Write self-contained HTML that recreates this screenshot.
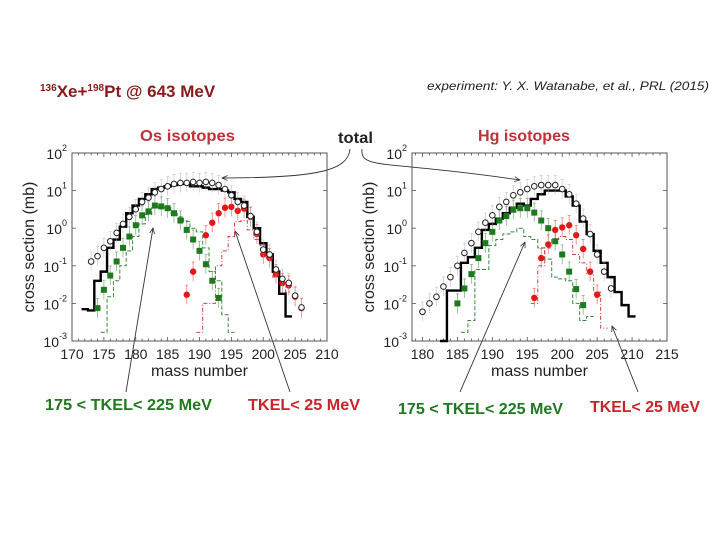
<!DOCTYPE html>
<html><head><meta charset="utf-8"><style>
html,body{margin:0;padding:0;background:#fff;}
svg{display:block;font-family:"Liberation Sans",sans-serif;}
</style></head><body>
<svg id="chart" width="720" height="540" viewBox="0 0 720 540">
<defs>
<marker id="ah" viewBox="0 0 10 10" refX="9" refY="5" markerWidth="7" markerHeight="7" orient="auto-start-reverse"><path d="M0,1 L9,5 L0,9" fill="none" stroke="#333" stroke-width="1.3"/></marker>
</defs>
<text x="40" y="97" font-size="17" font-weight="bold" fill="#8b1a1a"><tspan font-size="10" dy="-6">136</tspan><tspan dy="6">Xe+</tspan><tspan font-size="10" dy="-6">198</tspan><tspan dy="6">Pt @ 643 MeV</tspan></text>
<text x="427" y="90" font-size="12" font-style="italic" fill="#222" textLength="282" lengthAdjust="spacingAndGlyphs">experiment: Y. X. Watanabe, et al., PRL (2015)</text>
<text x="140" y="141" font-size="16" font-weight="bold" fill="#c0313a" textLength="95" lengthAdjust="spacingAndGlyphs">Os isotopes</text>
<text x="478" y="141" font-size="16" font-weight="bold" fill="#c0313a" textLength="92" lengthAdjust="spacingAndGlyphs">Hg isotopes</text>
<text x="338" y="143" font-size="16" font-weight="bold" fill="#222" textLength="35" lengthAdjust="spacingAndGlyphs">total</text>
<text x="45" y="410" font-size="16" font-weight="bold" fill="#1e7a1e" textLength="167" lengthAdjust="spacingAndGlyphs">175 &lt; TKEL&lt; 225 MeV</text>
<text x="248" y="410" font-size="16" font-weight="bold" fill="#c8242c" textLength="112" lengthAdjust="spacingAndGlyphs">TKEL&lt; 25 MeV</text>
<text x="398" y="414" font-size="16" font-weight="bold" fill="#1e7a1e" textLength="165" lengthAdjust="spacingAndGlyphs">175 &lt; TKEL&lt; 225 MeV</text>
<text x="590" y="412" font-size="16" font-weight="bold" fill="#c8242c" textLength="110" lengthAdjust="spacingAndGlyphs">TKEL&lt; 25 MeV</text>
<path d="M350,149 C348,170 320,178 222,178" fill="none" stroke="#333" stroke-width="0.9" marker-end="url(#ah)"/>
<path d="M362,149 C360,170 385,160 520,180" fill="none" stroke="#333" stroke-width="0.9" marker-end="url(#ah)"/>
<line x1="126" y1="392" x2="153" y2="228" stroke="#333" stroke-width="0.9" marker-end="url(#ah)"/>
<line x1="290" y1="392" x2="235" y2="231" stroke="#333" stroke-width="0.9" marker-end="url(#ah)"/>
<line x1="460" y1="392" x2="525" y2="242" stroke="#333" stroke-width="0.9" marker-end="url(#ah)"/>
<line x1="638" y1="392" x2="612" y2="326" stroke="#333" stroke-width="0.9" marker-end="url(#ah)"/>
</svg>
<script>
// Os panel data
const osTotExpMass=[173,174,175,176,177,178,179,180,181,182,183,184,185,186,187,188,189,190,191,192,193,194,195,196,197,198,199,200,201,202,203,204,205,206];
const osTotExpVal=[0.13,0.18,0.3,0.45,0.75,1.3,2,3.2,5,6.5,9,11,13,15,16,16,17,16,17,16,14,11,7.5,5,4,2.1,0.8,0.27,0.2,0.08,0.045,0.035,0.016,0.0078];
const osTotCalcMass=[172,173,174,175,176,177,178,179,180,181,182,183,184,185,186,187,188,189,190,191,192,193,194,195,196,197,198,199,200,201,202,203,204];
const osTotCalcVal=[0.007,0.0065,0.04,0.07,0.3,0.5,1.1,2.5,4,6,8,11,12,13,14,15,15,13,13,12,11,11,10,9,6,5,2,1,0.4,0.2,0.07,0.018,0.0045];
const osMidExpMass=[174,175,176,177,178,179,180,181,182,183,184,185,186,187,188,189,190,191,192,193];
const osMidExpVal=[0.0075,0.023,0.055,0.13,0.3,0.6,1.2,2.2,2.8,4,3.8,3.4,2.5,1.6,0.9,0.5,0.25,0.11,0.04,0.014];
const osMidCalcMass=[175,176,177,178,179,180,181,182,183,184,185,186,187,188,189,190,191,192,193,194,195];
const osMidCalcVal=[0.0017,0.015,0.04,0.1,0.25,0.6,1.3,2.3,3.5,4,3.5,2.5,2,1.5,1,0.8,0.3,0.07,0.04,0.005,0.0017];
const osLowExpMass=[188,189,191,192,193,194,195,196,197,198,199,200,201,202,203,204,205,206];
const osLowExpVal=[0.017,0.07,0.65,1.4,2.5,3.5,3.7,2.9,3.3,2.0,0.7,0.2,0.16,0.06,0.035,0.03,0.015,0.0075];
const osLowCalcMass=[190,191,192,193,194,195,196,197,198,199,200,201,202,203,204];
const osLowCalcVal=[0.0017,0.01,0.01,0.1,0.25,0.6,1.5,1.6,0.9,0.5,0.35,0.15,0.05,0.03,0.02];
// Hg panel data
const hgTotExpMass=[180,181,182,183,184,185,186,187,188,189,190,191,192,193,194,195,196,197,198,199,200,201,202,203,204,205,206,207];
const hgTotExpVal=[0.006,0.01,0.015,0.028,0.05,0.1,0.22,0.4,0.8,1.4,2.2,3.7,5,7.5,9,11,13,14,14,14,11,8,4.5,1.8,0.7,0.2,0.07,0.025];
const hgTotCalcMass=[183,184,185,186,187,188,189,190,191,192,193,194,195,196,197,198,199,200,201,202,203,204,205,206,207,208,209,210];
const hgTotCalcVal=[0.0009,0.022,0.022,0.12,0.17,0.3,0.9,1.3,1.8,2.5,3.5,4.5,4,6,8,10,10,10,7,4,1.5,0.7,0.25,0.12,0.05,0.02,0.009,0.0045];
const hgMidExpMass=[185,186,187,188,189,190,191,192,193,194,195,196,197,198,199,200,201,202,203];
const hgMidExpVal=[0.01,0.025,0.06,0.16,0.4,0.8,1.6,2.1,3.1,3.4,3.4,2.6,1.6,1.0,0.45,0.2,0.07,0.024,0.009];
const hgMidCalcMass=[186,187,188,189,190,191,192,193,194,195,196,197,198,199,200,201,202,203,204];
const hgMidCalcVal=[0.0017,0.0035,0.08,0.08,0.35,0.5,0.7,0.8,1.0,0.6,0.5,0.3,0.15,0.05,0.045,0.04,0.01,0.0035,0.0045];
const hgLowExpMass=[196,197,198,199,200,201,202,203,204,205];
const hgLowExpVal=[0.014,0.16,0.37,0.9,1.05,1.2,0.65,0.28,0.07,0.017];
const hgLowCalcMass=[196,197,198,199,200,201,202,203,204,205,206];
const hgLowCalcVal=[0.01,0.1,0.3,0.5,0.6,0.5,0.2,0.12,0.06,0.02,0.0022];
const osXTicks=[170,175,180,185,190,195,200,205,210];
const hgXTicks=[180,185,190,195,200,205,210,215];
const yTickExps=[2,1,0,-1,-2,-3];

const NS='http://www.w3.org/2000/svg';
const svg=document.getElementById('chart');
function mk(tag,attrs,parent){const e=document.createElementNS(NS,tag);for(const k in attrs)e.setAttribute(k,attrs[k]);(parent||svg).appendChild(e);return e;}

function panel(p){
  const g=mk('g',{});
  
  
  const X=m=>p.x0+(m-p.xmin)/(p.xmax-p.xmin)*(p.x1-p.x0);
  const Y=v=>p.y1-(Math.log10(v)+3)/5*(p.y1-p.y0);
  const clipY=y=>Math.min(y,p.y1);
  const fr=mk('rect',{x:p.x0,y:p.y0,width:p.x1-p.x0,height:p.y1-p.y0,fill:'none',stroke:'#555','stroke-width':1},g);
  
  
  for(let m=Math.ceil(p.xmin);m<=p.xmax;m++){
    const big=m%5===0,len=big?4:2.5;
    mk('line',{x1:X(m),x2:X(m),y1:p.y1,y2:p.y1-len,stroke:'#555','stroke-width':0.8},g);
    mk('line',{x1:X(m),x2:X(m),y1:p.y0,y2:p.y0+len,stroke:'#555','stroke-width':0.8},g);
  }
  p.xticks.forEach(t=>{
    const tx=mk('text',{x:X(t),y:p.y1+18,'font-size':14,'text-anchor':'middle',fill:'#222'},g);
    tx.textContent=t;
    
    
  });
  yTickExps.forEach(e=>{
    const y=Y(Math.pow(10,e));
    mk('line',{x1:p.x0,x2:p.x0+4,y1:y,y2:y,stroke:'#555','stroke-width':0.8},g);
    mk('line',{x1:p.x1,x2:p.x1-4,y1:y,y2:y,stroke:'#555','stroke-width':0.8},g);
    const tx=mk('text',{x:p.x0-5,y:y+6,'font-size':14,'text-anchor':'end',fill:'#222'},g);
    tx.innerHTML='10<tspan font-size="9" dy="-8">'+e+'</tspan>';
    
    
  });
  const xt=mk('text',{x:(p.x0+p.x1)/2,y:p.y1+35,'font-size':16,'text-anchor':'middle',fill:'#222'},g);
  xt.textContent='mass number';
  
  
  const yt=mk('text',{x:0,y:0,'font-size':16,'text-anchor':'middle',fill:'#222',transform:`translate(${p.x0-38},${(p.y0+p.y1)/2}) rotate(-90)`},g);
  yt.textContent='cross section (mb)';
  
  
  function hist(ms,vs,color,w,dash,name){
    let d='';
    ms.forEach((m,i)=>{const y=clipY(Y(vs[i]));d+=(i?'L':'M')+X(m-0.5)+','+y+'L'+X(m+0.5)+','+y;});
    const h=mk('path',{d:d,fill:'none',stroke:color,'stroke-width':w,'stroke-dasharray':dash||'none'},g);
    
    
  }
  function pts(ms,vs,color,shape,name){
    const sg=mk('g',{},g);
    
    
    const ec=shape==='open'?'#aaa':color;
    ms.forEach((m,i)=>{
      const x=X(m),y=Y(vs[i]);
      mk('line',{x1:x,x2:x,y1:Y(vs[i]*1.8),y2:clipY(Y(vs[i]/1.8)),stroke:ec,'stroke-width':0.8,opacity:0.55},sg);
      mk('line',{x1:x-1.5,x2:x+1.5,y1:Y(vs[i]*1.8),y2:Y(vs[i]*1.8),stroke:ec,'stroke-width':0.8,opacity:0.55},sg);
      let mkEl;
      if(shape==='open') mkEl=mk('circle',{cx:x,cy:y,r:2.8,fill:'#fff',stroke:'#222','stroke-width':1},sg);
      else if(shape==='square') mkEl=mk('rect',{x:x-3,y:y-3,width:6,height:6,fill:color},sg);
      else mkEl=mk('circle',{cx:x,cy:y,r:3.2,fill:color},sg);
      
      
    });
  }
  hist(p.midCM,p.midCV,'#3a8a3a',1,'4,2','mid-tkel-calc');
  hist(p.lowCM,p.lowCV,'#d04040',1,'4,2,1,2','low-tkel-calc');
  hist(p.totCM,p.totCV,'#000',2.4,null,'total-calc');
  pts(p.midEM,p.midEV,'#1e7a1e','square','mid-tkel-exp');
  pts(p.lowEM,p.lowEV,'#e01818','dot','low-tkel-exp');
  pts(p.totEM,p.totEV,'#000','open','total-exp');
}
panel({name:'os-panel',x0:72,x1:327,y0:153,y1:341,xmin:170,xmax:210,xticks:osXTicks,
  totEM:osTotExpMass,totEV:osTotExpVal,totCM:osTotCalcMass,totCV:osTotCalcVal,
  midEM:osMidExpMass,midEV:osMidExpVal,midCM:osMidCalcMass,midCV:osMidCalcVal,
  lowEM:osLowExpMass,lowEV:osLowExpVal,lowCM:osLowCalcMass,lowCV:osLowCalcVal});
panel({name:'hg-panel',x0:412,x1:667,y0:153,y1:341,xmin:178.5,xmax:215,xticks:hgXTicks,
  totEM:hgTotExpMass,totEV:hgTotExpVal,totCM:hgTotCalcMass,totCV:hgTotCalcVal,
  midEM:hgMidExpMass,midEV:hgMidExpVal,midCM:hgMidCalcMass,midCV:hgMidCalcVal,
  lowEM:hgLowExpMass,lowEV:hgLowExpVal,lowCM:hgLowCalcMass,lowCV:hgLowCalcVal});
</script>
</body></html>
